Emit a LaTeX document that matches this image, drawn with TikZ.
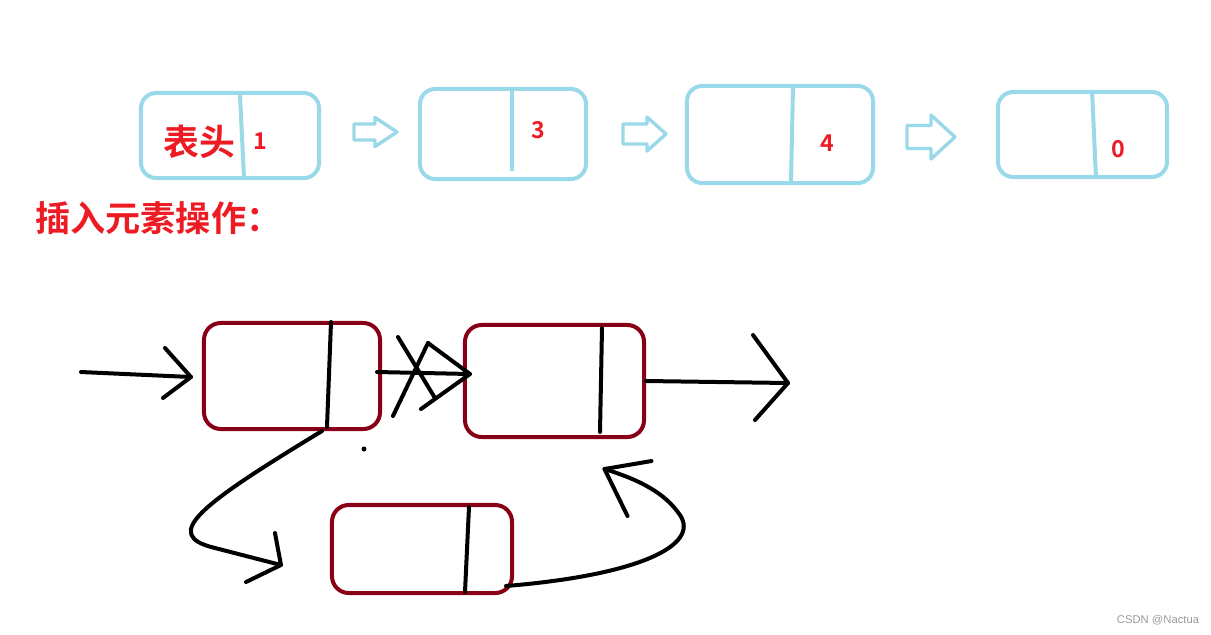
\documentclass[tikz,border=0pt]{standalone}
\usepackage{fontspec}
\newfontfamily\cjkbold{Noto Sans CJK SC Bold}
\setsansfont{Liberation Sans}
\usetikzlibrary{positioning}
\definecolor{paleblue}{HTML}{99D9EA}
\definecolor{paintred}{HTML}{ED1C24}
\definecolor{wine}{HTML}{880015}
\definecolor{greytext}{HTML}{9A9A9A}

\begin{document}
\begin{tikzpicture}[x=0.025cm,y=-0.025cm,
    cell/.style={draw=paleblue,line width=1mm,rounded corners=0.38cm,inner sep=0pt},
    rcell/.style={draw=wine,line width=1mm,rounded corners=0.42cm,inner sep=0pt},
    digit/.style={font=\cjkbold\fontsize{16.5pt}{16.5pt}\selectfont,color=paintred},
    pen/.style={line width=1mm,line cap=round,line join=round}]
        \useasboundingbox (0,0) rectangle (1211,634);
        \foreach \n/\cx/\cy/\w/\h in {1/230/135.5/4.45/2.125,2/503/134/4.15/2.25,3/780/134.5/4.65/2.425,4/1082.5/134.5/4.225/2.125}{
          \node[cell,minimum width=\w cm,minimum height=\h cm] (b\n) at (\cx,\cy) {};}
        \foreach \xa/\ya/\xb/\yb in {240/95/244/178,512/88/512/171,793/86/791/182,1092/90/1096/178}{
          \draw[paleblue,line width=1mm] (\xa,\ya) -- (\xb,\yb);}
        \foreach \xa/\xb/\xc/\yc/\s/\hh in {354/375/397/132/8/14.5,623/647/666/134/10/17,907/931/955/137/11.5/22}{
          \draw[paleblue,line width=0.85mm,line join=round] (\xa,\yc-\s) -- (\xb,\yc-\s) -- (\xb,\yc-\hh) -- (\xc,\yc)
            -- (\xb,\yc+\hh) -- (\xb,\yc+\s) -- (\xa,\yc+\s) -- cycle;}
        \node[font=\cjkbold\fontsize{25.5pt}{26pt}\selectfont,color=paintred] (head) at (199,142) {表头};
        \node[digit] (v1) at (260,141) {1};
        \node[digit] (v3) at (538,130) {3};
        \node[digit] (v4) at (827,143) {4};
        \node[digit] (v0) at (1118,149) {0};
        \node[font=\cjkbold\fontsize{25pt}{26pt}\selectfont,color=paintred,anchor=west,inner sep=0pt] (title) at (35,218) {插入元素操作：};
        % insertion sketch
        \node[rcell,minimum width=4.4cm,minimum height=2.65cm] (first) at (292,376) {};
        \node[rcell,minimum width=4.475cm,minimum height=2.8cm] (second) at (554.5,381) {};
        \node[rcell,minimum width=4.5cm,minimum height=2.2cm] (inserted) at (422,549) {};
        \draw[pen] (331,322) -- (327,427);
        \draw[pen] (602,328) -- (600,432);
        \draw[pen] (469,507) -- (465,592);
        \coordinate (in) at (81,372);
        \coordinate (out) at (788,383);
        \draw[pen] (in) -- ([shift={(-11,1)}]first.west) coordinate (t1);
        \draw[pen] (t1) ++(-26,-29) -- (t1) -- ++(-28,21);
        \draw[pen] ([shift={(-5,-4)}]first.east) -- ([shift={(7,-7)}]second.west) coordinate (t2);
        \draw[pen] (t2) ++(-42,-31) -- (t2) -- ++(-49,35);
        \draw[pen] (t2) ++(-72,-37) -- ++(37,61);
        \draw[pen] (t2) ++(-42,-31) -- ++(-35,73);
        \draw[pen] (second.east) -- (out);
        \draw[pen] (out) ++(-35,-48) -- (out) -- ++(-33,37);
        \draw[pen] ([shift={(30,0)}]first.south) .. controls (200,505) and (160,535) .. (215,548)
          -- ([shift={(-49,16)}]inserted.west) coordinate (t3);
        \draw[pen] (t3) ++(-6,-32) -- (t3) -- ++(-35,17);
        \draw[pen] ([shift={(-8,37)}]inserted.east) .. controls (640,575) and (700,545) .. (680,515)
          .. controls (665,493) and (640,480) .. ([shift={(50,30)}]second.south) coordinate (t4);
        \draw[pen] (t4) ++(47,-8) -- (t4) -- ++(23,47);
        \fill (364,449) circle (2.5);
        \node[font=\sffamily\fontsize{8pt}{8pt}\selectfont,color=greytext] (mark) at (1158,620) {CSDN @Nactua};
      \end{tikzpicture}
\end{document}
